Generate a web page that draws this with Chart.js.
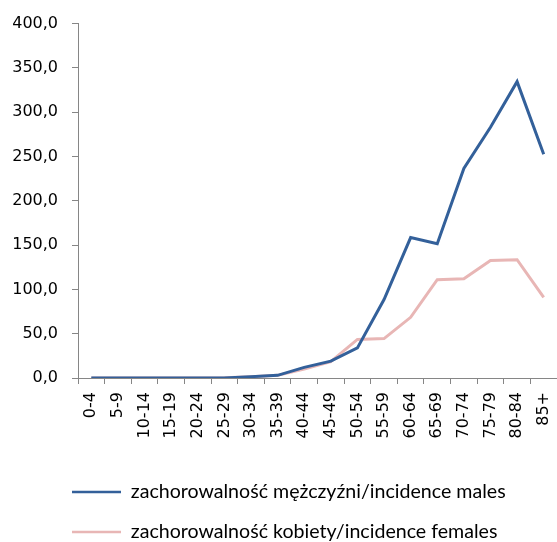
<!DOCTYPE html>
<html>
<head>
<meta charset="utf-8">
<script src="https://cdn.jsdelivr.net/npm/chart.js@4/dist/chart.umd.min.js"></script>
<style>
  html, body { margin: 0; padding: 0; background: #fff; }
  #wrap { width: 557px; height: 542px; position: relative; }
</style>
</head>
<body>
<div id="wrap"><canvas id="c" width="557" height="542"></canvas></div>
<script>
const categories = ['0-4','5-9','10-14','15-19','20-24','25-29','30-34','35-39','40-44','45-49','50-54','55-59','60-64','65-69','70-74','75-79','80-84','85+'];
const malesIncidence = [0, 0, 0, 0, 0, 0, 1.5, 3.0, 12.0, 19.0, 34.0, 88.5, 158.5, 151.5, 236.5, 283.0, 334.5, 252.5];
const femalesIncidence = [0, 0, 0, 0, 0, 0.3, 1.5, 3.0, 10.0, 18.5, 43.5, 44.5, 68.5, 111.0, 112.0, 132.5, 133.5, 91.0];
const seriesLabels = ['zachorowalność mężczyźni/incidence males', 'zachorowalność kobiety/incidence females'];
const yMin = 0, yMax = 400, yStep = 50;

const FONT = 'DejaVu Sans';
const LEGEND_FONT = 'Lato';
const LEGEND_SIZE = 19.6;
const AXIS = '#868686';

const legendShift = {
  id: 'legendShift',
  afterLayout(chart) {
    const lg = chart.legend;
    if (!lg) return;
    const pad = lg.options.labels.padding;
    const dx = 72 - pad - lg.left;
    const dy = (492 - pad - LEGEND_SIZE / 2) - lg.top;
    lg.left += dx; lg.right += dx;
    lg.top += dy; lg.bottom += dy;
  }
};

new Chart(document.getElementById('c'), {
  type: 'line',
  data: {
    labels: categories,
    datasets: [
      { label: seriesLabels[0], data: malesIncidence, borderColor: '#33609A', backgroundColor: '#33609A', borderWidth: 3, pointRadius: 0, tension: 0, fill: false },
      { label: seriesLabels[1], data: femalesIncidence, borderColor: '#E8B6B5', backgroundColor: '#E8B6B5', borderWidth: 3, pointRadius: 0, tension: 0, fill: false }
    ]
  },
  options: {
    responsive: false,
    animation: false,
    layout: { padding: { top: 22, left: 0, right: 0, bottom: 1 } },
    plugins: {
      tooltip: { enabled: false },
      legend: {
        position: 'bottom',
        align: 'start',
        labels: {
          usePointStyle: true,
          pointStyle: 'line',
          pointStyleWidth: 49,
          padding: 20.4,
          color: '#000',
          font: { family: LEGEND_FONT, size: LEGEND_SIZE },
          generateLabels(chart) {
            const items = Chart.defaults.plugins.legend.labels.generateLabels(chart);
            items.forEach(it => { it.lineWidth = 2.5; });
            return items;
          }
        }
      }
    },
    scales: {
      x: {
        type: 'category',
        offset: true,
        grid: { offset: true, drawOnChartArea: false, drawTicks: true, tickLength: 6, color: AXIS, lineWidth: 1 },
        border: { color: AXIS, width: 1 },
        ticks: { minRotation: 90, maxRotation: 90, autoSkip: false, padding: 8, color: '#000', font: { family: FONT, size: 16 } },
        afterFit(scale) { scale.height = 73; scale.paddingRight = 0; }
      },
      y: {
        min: yMin, max: yMax,
        grid: { drawOnChartArea: false, drawTicks: true, tickLength: 6, color: AXIS, lineWidth: 1 },
        border: { color: AXIS, width: 1 },
        ticks: {
          stepSize: yStep, padding: 14, color: '#000', font: { family: FONT, size: 16 },
          callback: (v) => v.toFixed(1).replace('.', ',')
        },
        afterFit(scale) { scale.width = 78; }
      }
    }
  },
  plugins: [legendShift]
});
</script>
</body>
</html>
